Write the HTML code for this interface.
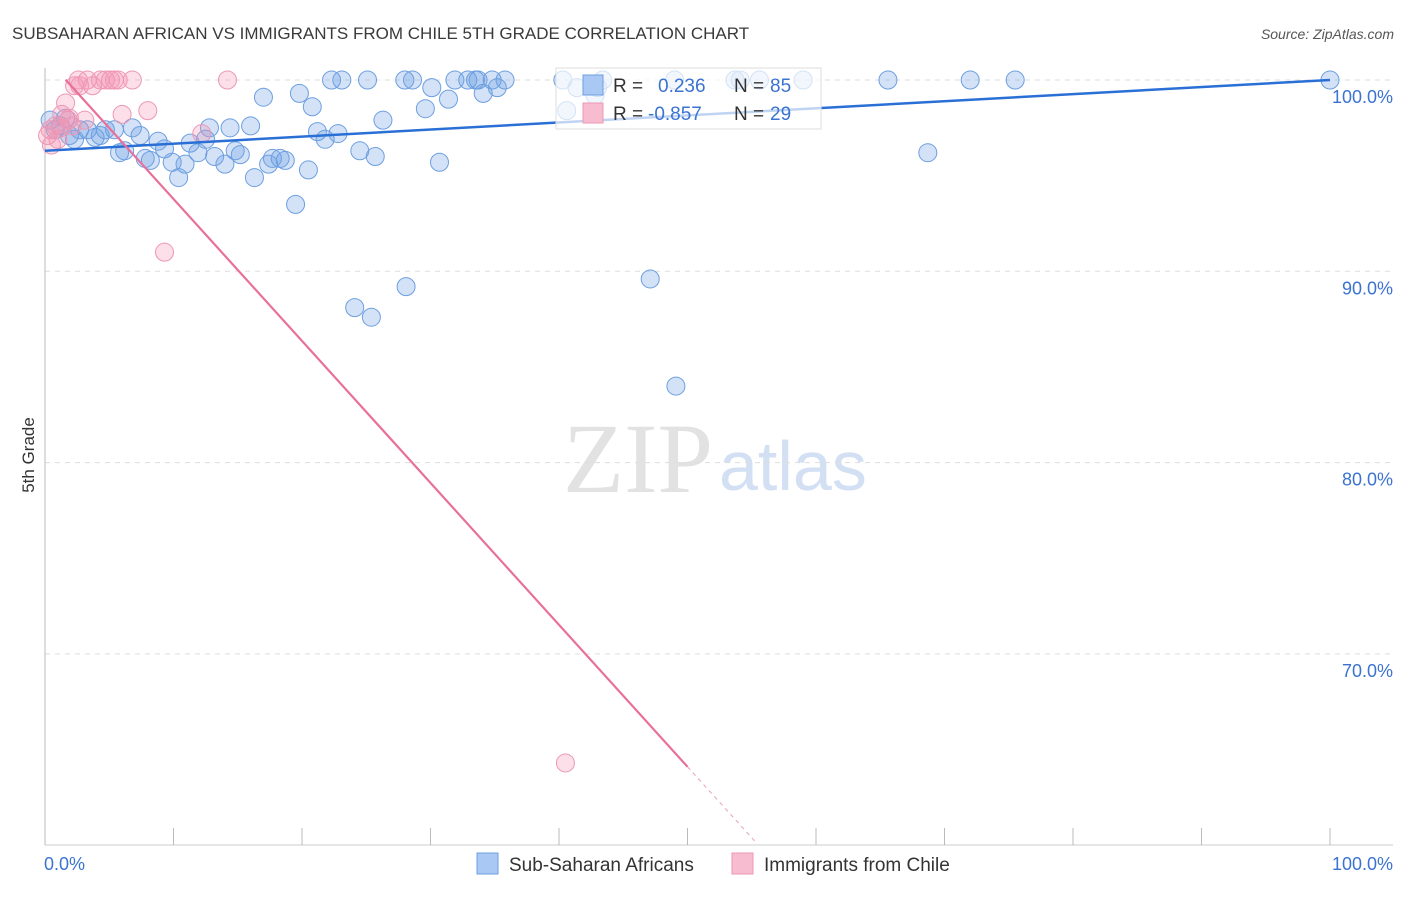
<!DOCTYPE html>
<html><head><meta charset="utf-8"><style>
body{margin:0;background:#fff;font-family:"Liberation Sans",sans-serif}
</style></head><body>
<svg width="1406" height="892" xmlns="http://www.w3.org/2000/svg" font-family="Liberation Sans, sans-serif">
<text x="12" y="39" font-size="17" fill="#3a3a3a">SUBSAHARAN AFRICAN VS IMMIGRANTS FROM CHILE 5TH GRADE CORRELATION CHART</text>
<text x="1394" y="39" font-size="14" fill="#555" font-style="italic" text-anchor="end">Source: ZipAtlas.com</text>
<text x="713" y="492" font-size="100" fill="#e2e2e2" text-anchor="end" font-family="Liberation Serif, serif">ZIP</text>
<text x="719" y="490" font-size="70" fill="#d3e0f3">atlas</text>
<g id="grid"></g>
<g id="axes"></g>
<g id="marks"></g>
<text x="34" y="455" font-size="17" fill="#333" text-anchor="middle" transform="rotate(-90 34 455)">5th Grade</text>
<g>
<rect x="556" y="68" width="265" height="61" fill="#fff" fill-opacity="0.7" stroke="#ddd"/>
<rect x="583" y="75" width="20" height="20" fill="#a9c8f3" stroke="#6d9fe0"/>
<rect x="583" y="103" width="20" height="20" fill="#f8bcd0" stroke="#ec98b5"/>
<text x="613" y="92" font-size="19" fill="#333">R = </text>
<text x="658" y="92" font-size="19" fill="#3b73d0">0.236</text>
<text x="734" y="92" font-size="19" fill="#333">N = </text>
<text x="770" y="92" font-size="19" fill="#3b73d0">85</text>
<text x="613" y="120" font-size="19" fill="#333">R = </text>
<text x="648" y="120" font-size="19" fill="#3b73d0">-0.857</text>
<text x="734" y="120" font-size="19" fill="#333">N = </text>
<text x="770" y="120" font-size="19" fill="#3b73d0">29</text>
</g>
<g>
<rect x="477" y="853" width="21" height="21" fill="#a9c8f3" stroke="#6d9fe0"/>
<text x="509" y="871" font-size="19" fill="#333">Sub-Saharan Africans</text>
<rect x="732" y="853" width="21" height="21" fill="#f8bcd0" stroke="#ec98b5"/>
<text x="764" y="871" font-size="19" fill="#333">Immigrants from Chile</text>
</g>
</svg>
<script>
const blueX=[0.4,0.8,1.2,1.6,1.9,2.3,2.7,3.3,3.9,4.3,4.7,5.4,5.8,6.2,6.8,7.4,7.8,8.2,8.8,9.3,9.9,10.4,10.9,11.3,11.9,12.5,12.8,13.2,14.0,14.4,14.8,15.2,16.0,16.3,17.0,17.4,17.7,18.3,18.7,19.5,19.8,20.5,20.8,21.2,21.8,22.3,22.8,23.1,24.1,24.5,25.1,25.4,25.7,26.3,28.0,28.1,28.6,29.6,30.1,30.7,31.4,31.9,32.9,33.5,33.7,34.1,34.8,35.2,35.8,40.3,40.6,41.4,43.0,42.8,43.4,47.1,49.1,49.0,53.7,54.1,55.6,59.0,65.6,68.7,72.0,75.5,100];
const blueY=[97.9,97.4,97.6,98.0,97.1,96.9,97.4,97.4,97.0,97.1,97.4,97.4,96.2,96.3,97.5,97.1,95.9,95.8,96.8,96.4,95.7,94.9,95.6,96.7,96.2,96.9,97.5,96.0,95.6,97.5,96.3,96.1,97.6,94.9,99.1,95.6,95.9,95.9,95.8,93.5,99.3,95.3,98.6,97.3,96.9,100,97.2,100,88.1,96.3,100,87.6,96.0,97.9,100,89.2,100,98.5,99.6,95.7,99.0,100,100,100,100,99.3,100,99.6,100,100,98.4,99.6,99.6,99.2,100,89.6,84.0,100,100,100,100,100,100,96.2,100,100,100];
const pinkX=[0.4,0.8,1.0,1.3,1.6,1.8,2.1,2.3,2.7,3.1,3.3,3.7,4.3,4.7,5.1,5.4,5.7,6.0,6.8,8.0,9.3,12.2,14.2,40.5,0.5,0.2,1.2,1.9,2.6];
const pinkY=[97.4,97.6,96.9,98.2,98.8,97.9,97.6,99.7,99.7,97.9,100,99.7,100,100,100,100,100,98.2,100,98.4,91.0,97.2,100,64.3,96.6,97.1,97.5,98.0,100];
const yTicks=[100,90,80,70];
const yTickLabels=["100.0%","90.0%","80.0%","70.0%"];
const blueTrend=[96.3,100];
const pinkTrend=[101.2,-0.742];
const NS="http://www.w3.org/2000/svg";
const X=v=>45+v*12.85, Y=v=>80+(100-v)*19.13;
function mk(p,t,a){const e=document.createElementNS(NS,t);for(const k in a)e.setAttribute(k,a[k]);document.getElementById(p).appendChild(e);return e;}
yTicks.forEach((t,i)=>{
 const l=mk('grid','line',{x1:45,x2:1393,y1:Y(t),y2:Y(t),stroke:'#ddd','stroke-dasharray':'5,5'});
 
 
 const tx=mk('grid','text',{x:1393,y:Y(t)+23,'font-size':18,fill:'#3b73d0','text-anchor':'end'});
 tx.textContent=yTickLabels[i];
 
 
});
const la=mk('axes','line',{x1:45,x2:45,y1:68,y2:845,stroke:'#bbb'});


const lb=mk('axes','line',{x1:45,x2:1393,y1:845,y2:845,stroke:'#ccc'});


for(let i=0;i<=10;i++){const t=mk('axes','line',{x1:X(i*10),x2:X(i*10),y1:828,y2:845,stroke:'#bbb'});
 
 }
[[X(0)-1,'start','0.0%'],[1393,'end','100.0%']].forEach(d=>{const t=mk('axes','text',{x:d[0],y:870,'font-size':18,fill:'#3b73d0','text-anchor':d[1]});t.textContent=d[2];
 
 });
blueX.forEach((x,i)=>{const c=mk('marks','circle',{cx:X(x),cy:Y(blueY[i]),r:9,fill:'rgba(110,160,230,0.3)',stroke:'#6d9fe0','stroke-width':1});
 
 });
pinkX.forEach((x,i)=>{const c=mk('marks','circle',{cx:X(x),cy:Y(pinkY[i]),r:9,fill:'rgba(245,150,180,0.3)',stroke:'#ec98b5','stroke-width':1});
 
 });
const bt=mk('marks','line',{x1:X(0),y1:Y(blueTrend[0]),x2:X(100),y2:Y(blueTrend[1]),stroke:'#2a6fd6','stroke-width':2.5});


const pf=x=>pinkTrend[0]+pinkTrend[1]*x;
const pt=mk('marks','line',{x1:X(1.6),y1:Y(pf(1.6)),x2:X(50),y2:Y(pf(50)),stroke:'#e8709a','stroke-width':2.2});


const pd=mk('marks','line',{x1:X(50),y1:Y(pf(50)),x2:X(55.4),y2:Y(pf(55.4)),stroke:'#e8a0b8','stroke-width':1,'stroke-dasharray':'4,4'});


</script>
</body></html>
